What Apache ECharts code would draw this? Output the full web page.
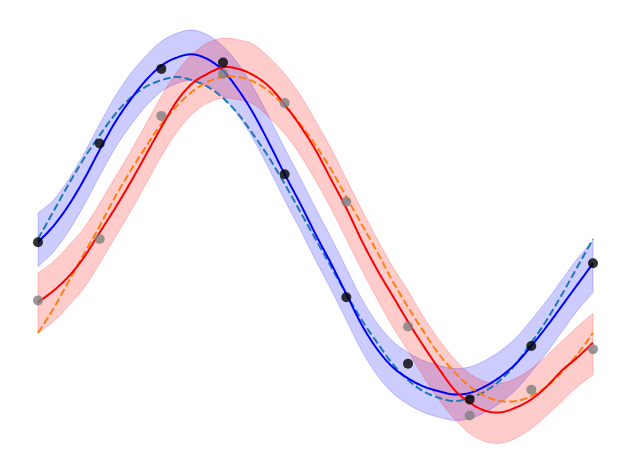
<!DOCTYPE html>
<html>
<head>
<meta charset="utf-8">
<script src="https://cdn.jsdelivr.net/npm/echarts@6/dist/echarts.min.js"></script>
<style>html,body{margin:0;padding:0;background:#fff}#c{width:630px;height:470px}</style>
</head>
<body>
<div id="c"></div>
<script>
// x positions of the curves (step 0.25)
const xFine = [0,0.25,0.5,0.75,1,1.25,1.5,1.75,2,2.25,2.5,2.75,3,3.25,3.5,3.75,4,4.25,4.5,4.75,5,5.25,5.5,5.75,6,6.25,6.5,6.75,7,7.25,7.5,7.75,8,8.25,8.5,8.75,9];
// observation x positions
const xObs = [0,1,2,3,4,5,6,7,8,9];

// first set (blue)
const blackObs  = [-0.02,0.59,1.05,1.09,0.40,-0.36,-0.77,-0.99,-0.66,-0.15];
const blueTrue  = [0.00,0.17,0.34,0.50,0.64,0.77,0.87,0.94,0.98,1.00,0.98,0.94,0.87,0.77,0.64,0.50,0.34,0.17,0.00,-0.17,-0.34,-0.50,-0.64,-0.77,-0.87,-0.94,-0.98,-1.00,-0.98,-0.94,-0.87,-0.77,-0.64,-0.50,-0.34,-0.17,0.00];
const blueMean  = [-0.02,0.08,0.21,0.37,0.55,0.72,0.86,0.98,1.07,1.12,1.14,1.11,1.04,0.92,0.77,0.59,0.40,0.22,0.03,-0.15,-0.34,-0.53,-0.68,-0.79,-0.86,-0.91,-0.94,-0.96,-0.95,-0.91,-0.85,-0.77,-0.66,-0.54,-0.41,-0.28,-0.15];
const blueUpper = [0.16,0.24,0.37,0.53,0.71,0.88,1.02,1.13,1.22,1.27,1.29,1.26,1.19,1.08,0.93,0.75,0.56,0.38,0.19,0.01,-0.18,-0.37,-0.52,-0.63,-0.70,-0.75,-0.78,-0.80,-0.79,-0.75,-0.69,-0.61,-0.50,-0.38,-0.25,-0.12,-0.01];
const blueLower = [-0.17,-0.08,0.05,0.21,0.39,0.56,0.70,0.82,0.91,0.96,0.98,0.95,0.88,0.76,0.61,0.43,0.24,0.06,-0.13,-0.31,-0.50,-0.69,-0.84,-0.95,-1.02,-1.07,-1.10,-1.12,-1.11,-1.07,-1.01,-0.93,-0.82,-0.70,-0.57,-0.44,-0.33];

// second set (red)
const greyObs   = [-0.38,0.00,0.76,1.02,0.84,0.23,-0.54,-1.09,-0.93,-0.68];
const redTrue   = [-0.58,-0.43,-0.26,-0.09,0.08,0.26,0.42,0.57,0.71,0.82,0.91,0.97,1.00,1.00,0.97,0.91,0.82,0.71,0.58,0.43,0.26,0.09,-0.08,-0.26,-0.42,-0.57,-0.71,-0.82,-0.91,-0.97,-1.00,-1.00,-0.97,-0.91,-0.82,-0.71,-0.58];
const redMean   = [-0.39,-0.32,-0.23,-0.11,0.04,0.19,0.35,0.52,0.69,0.85,0.96,1.02,1.06,1.05,1.01,0.94,0.83,0.70,0.55,0.37,0.19,-0.01,-0.19,-0.35,-0.51,-0.66,-0.80,-0.93,-1.01,-1.06,-1.07,-1.04,-0.99,-0.91,-0.81,-0.73,-0.64];
const redUpper  = [-0.21,-0.14,-0.04,0.07,0.22,0.38,0.54,0.71,0.88,1.03,1.14,1.21,1.24,1.23,1.20,1.12,1.02,0.89,0.73,0.56,0.37,0.18,0.00,-0.17,-0.32,-0.48,-0.62,-0.74,-0.83,-0.88,-0.89,-0.86,-0.80,-0.72,-0.63,-0.54,-0.46];
const redLower  = [-0.58,-0.51,-0.41,-0.30,-0.15,0.01,0.17,0.34,0.51,0.66,0.77,0.84,0.87,0.86,0.83,0.75,0.65,0.52,0.36,0.19,0.00,-0.19,-0.37,-0.54,-0.69,-0.85,-0.99,-1.11,-1.20,-1.25,-1.26,-1.23,-1.17,-1.09,-1.00,-0.91,-0.84];

const pairs = (xs, ys) => xs.map((x, i) => [x, ys[i]]);

// smooth pixel path through the projected points (rendering only)
function splinePx(pts, steps) {
  const out = [];
  const n = pts.length;
  for (let i = 0; i < n - 1; i++) {
    const p0 = pts[Math.max(i - 1, 0)], p1 = pts[i], p2 = pts[i + 1], p3 = pts[Math.min(i + 2, n - 1)];
    for (let s = 0; s < steps; s++) {
      const t = s / steps, t2 = t * t, t3 = t2 * t;
      const f = (a, b, c, d) => 0.5 * ((2 * b) + (-a + c) * t + (2 * a - 5 * b + 4 * c - d) * t2 + (-a + 3 * b - 3 * c + d) * t3);
      out.push([f(p0[0], p1[0], p2[0], p3[0]), f(p0[1], p1[1], p2[1], p3[1])]);
    }
  }
  out.push(pts[n - 1]);
  return out;
}

function band(upper, lower, rgb) {
  return {
    type: 'custom',
    data: [[0, 0]],
    silent: true,
    clip: false,
    renderItem: function (params, api) {
      const up = xFine.map((x, i) => api.coord([x, upper[i]]));
      const lo = xFine.map((x, i) => api.coord([x, lower[i]])).reverse();
      const pts = splinePx(up, 6).concat(splinePx(lo, 6));
      return {
        type: 'polygon',
        shape: { points: pts },
        style: { fill: 'rgba(' + rgb + ',0.2)', stroke: 'rgba(' + rgb + ',0.2)', lineWidth: 1 }
      };
    }
  };
}

function curve(ys, color, dashed) {
  return {
    type: 'custom',
    data: [[0, 0]],
    silent: true,
    clip: false,
    renderItem: function (params, api) {
      const pts = splinePx(xFine.map((x, i) => api.coord([x, ys[i]])), 8);
      return {
        type: 'polyline',
        shape: { points: pts },
        style: { fill: null, stroke: color, lineWidth: 2, lineDash: dashed ? [7.6, 3.3] : null, lineCap: 'butt', lineJoin: 'round' }
      };
    }
  };
}

const chart = echarts.init(document.getElementById('c'), null, { renderer: 'canvas' });
chart.setOption({
  animation: false,
  backgroundColor: '#fff',
  grid: { left: 38, right: 37, top: 4.1, bottom: 4.2, containLabel: false },
  xAxis: { type: 'value', min: 0, max: 9, show: false },
  yAxis: { type: 'value', min: -1.4, max: 1.45, show: false },
  series: [
    band(blueUpper, blueLower, '0,0,255'),
    { type: 'scatter', data: pairs(xObs, blackObs), symbolSize: 10, itemStyle: { color: '#000' } },
    band(redUpper, redLower, '255,0,0'),
    { type: 'scatter', data: pairs(xObs, greyObs), symbolSize: 10, itemStyle: { color: '#808080' } },
    curve(blueTrue, '#1f77b4', true),
    curve(blueMean, '#0000ff', false),
    curve(redTrue, '#ff7f0e', true),
    curve(redMean, '#ff0000', false)
  ]
});
</script>
</body>
</html>
